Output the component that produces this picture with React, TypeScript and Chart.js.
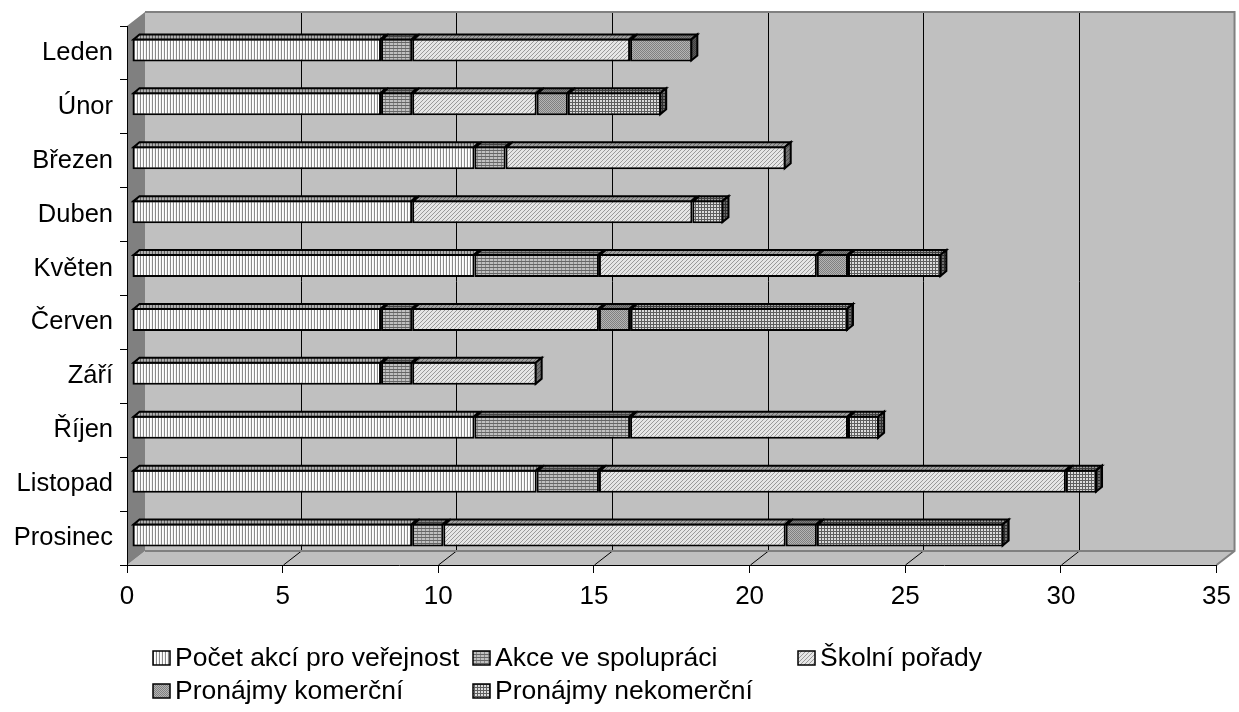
import React, { useEffect, useRef } from 'react';
import { Chart, registerables } from 'chart.js';

Chart.register(...registerables);

const categories = ['Leden', 'Únor', 'Březen', 'Duben', 'Květen', 'Červen', 'Září', 'Říjen', 'Listopad', 'Prosinec'];
const seriesNames = ['Počet akcí pro veřejnost', 'Akce ve spolupráci', 'Školní pořady', 'Pronájmy komerční', 'Pronájmy nekomerční'];
const pocetAkci = [8, 8, 11, 9, 11, 8, 8, 11, 13, 9];
const akceSpoluprace = [1, 1, 1, 0, 4, 1, 1, 5, 2, 1];
const skolniPorady = [7, 4, 9, 9, 7, 6, 4, 7, 15, 11];
const pronajmyKomercni = [2, 1, 0, 0, 1, 1, 0, 0, 0, 1];
const pronajmyNekomercni = [0, 3, 0, 1, 3, 7, 0, 1, 1, 6];
const xMin = 0;
const xMax = 35;
const xStep = 5;

const FONT = "'Liberation Sans', Arial, sans-serif";

type Px = (x: number, y: number) => string;

function makePattern(ctx: CanvasRenderingContext2D, w: number, h: number, fn: Px): CanvasPattern {
  const c = document.createElement('canvas');
  c.width = w;
  c.height = h;
  const g = c.getContext('2d')!;
  for (let y = 0; y < h; y++) {
    for (let x = 0; x < w; x++) {
      g.fillStyle = fn(x, y);
      g.fillRect(x, y, 1, 1);
    }
  }
  return ctx.createPattern(c, 'repeat')!;
}

function buildPatterns(ctx: CanvasRenderingContext2D): CanvasPattern[] {
  return [
    // vertical lines
    makePattern(ctx, 3, 1, (x) => (x === 0 ? '#8a8a8a' : x === 1 ? '#ffffff' : '#f2f2f2')),
    // horizontal grid
    makePattern(ctx, 4, 3, (x, y) => (y === 0 ? '#666666' : x === 0 ? '#888888' : '#c0c0c0')),
    // fine diagonal
    makePattern(ctx, 4, 4, (x, y) => ((x + y) % 4 === 0 ? '#9a9a9a' : '#e6e6e6')),
    // 50% checker
    makePattern(ctx, 2, 2, (x, y) => ((x + y) % 2 === 0 ? '#808080' : '#b4b4b4')),
    // dotted grid
    makePattern(ctx, 3, 3, (x, y) => (x === 0 || y === 0 ? '#5e5e5e' : '#dcdcdc')),
  ];
}

const WALL = { dx: 18, dy: 14 };
const BAR = { dx: 6, dy: 5, ox: 5, oy: -3 };

const wallsPlugin = {
  id: 'walls3d',
  beforeDraw(chart: any) {
    const { ctx, chartArea } = chart;
    const { left, right, top, bottom } = chartArea;
    const { dx, dy } = WALL;
    ctx.save();
    // back wall
    ctx.fillStyle = '#c0c0c0';
    ctx.fillRect(left + dx, top - dy, right - left, bottom - top);
    // floor
    ctx.beginPath();
    ctx.moveTo(left, bottom);
    ctx.lineTo(left + dx, bottom - dy);
    ctx.lineTo(right + dx, bottom - dy);
    ctx.lineTo(right, bottom);
    ctx.closePath();
    ctx.fill();
    // grid lines
    const xs = chart.scales.x;
    ctx.strokeStyle = '#000';
    ctx.lineWidth = 1;
    xs.ticks.forEach((t: any) => {
      if (t.value <= xMin || t.value >= xMax) return;
      const px = Math.round(xs.getPixelForValue(t.value)) + 0.5;
      ctx.beginPath();
      ctx.moveTo(px + dx, top - dy);
      ctx.lineTo(px + dx, bottom - dy);
      ctx.stroke();
      ctx.beginPath();
      ctx.moveTo(px, bottom);
      ctx.lineTo(px + dx, bottom - dy);
      ctx.stroke();
    });
    // wall borders
    ctx.strokeStyle = '#808080';
    ctx.lineWidth = 2;
    ctx.beginPath();
    ctx.moveTo(left + dx, top - dy);
    ctx.lineTo(right + dx, top - dy);
    ctx.lineTo(right + dx, bottom - dy);
    ctx.lineTo(right, bottom);
    ctx.stroke();
    ctx.beginPath();
    ctx.moveTo(left + dx, bottom - dy);
    ctx.lineTo(right + dx, bottom - dy);
    ctx.stroke();
    // left wall
    ctx.fillStyle = '#808080';
    ctx.beginPath();
    ctx.moveTo(left, top);
    ctx.lineTo(left + dx, top - dy);
    ctx.lineTo(left + dx, bottom - dy);
    ctx.lineTo(left, bottom);
    ctx.closePath();
    ctx.fill();
    ctx.restore();
  },
};

function facePath(ctx: CanvasRenderingContext2D, pts: number[][]) {
  ctx.beginPath();
  ctx.moveTo(pts[0][0], pts[0][1]);
  for (let i = 1; i < pts.length; i++) ctx.lineTo(pts[i][0], pts[i][1]);
  ctx.closePath();
}

const bars3dPlugin = {
  id: 'bars3d',
  beforeDatasetsDraw(chart: any) {
    chart.ctx.save();
    chart.ctx.translate(BAR.ox, BAR.oy);
  },
  afterDatasetsDraw(chart: any) {
    const ctx: CanvasRenderingContext2D = chart.ctx;
    const { dx, dy } = BAR;
    const datasets = chart.data.datasets;
    ctx.lineWidth = 2;
    ctx.strokeStyle = '#000';
    ctx.lineJoin = 'miter';
    const lastIdx: number[] = categories.map((_, j) => {
      let k = -1;
      datasets.forEach((ds: any, i: number) => {
        if (ds.data[j] > 0) k = i;
      });
      return k;
    });
    datasets.forEach((ds: any, i: number) => {
      const meta = chart.getDatasetMeta(i);
      meta.data.forEach((el: any, j: number) => {
        if (!(ds.data[j] > 0)) return;
        const p = el.getProps(['x', 'y', 'base', 'height'], true);
        const x0 = Math.min(p.base, p.x);
        const x1 = Math.max(p.base, p.x);
        const yt = p.y - p.height / 2 + 1;
        const yb = p.y + p.height / 2 - 1;
        // top face
        facePath(ctx, [[x0 + 1, yt], [x0 + 1 + dx, yt - dy], [x1 - 1 + dx, yt - dy], [x1 - 1, yt]]);
        ctx.fillStyle = ds.backgroundColor;
        ctx.fill();
        ctx.fillStyle = 'rgba(0,0,0,0.3)';
        ctx.fill();
        ctx.stroke();
        if (lastIdx[j] === i) {
          facePath(ctx, [[x1 - 1, yt], [x1 - 1 + dx, yt - dy], [x1 - 1 + dx, yb - dy], [x1 - 1, yb]]);
          ctx.fillStyle = ds.backgroundColor;
          ctx.fill();
          ctx.fillStyle = 'rgba(0,0,0,0.5)';
          ctx.fill();
          ctx.stroke();
        }
      });
    });
    ctx.restore();
  },
};

const legendPositions = [
  [153, 658],
  [473, 658],
  [798, 658],
  [153, 691],
  [473, 691],
];

const legendPlugin = {
  id: 'customLegend',
  afterDraw(chart: any) {
    const ctx: CanvasRenderingContext2D = chart.ctx;
    ctx.save();
    ctx.font = `26.5px ${FONT}`;
    ctx.textBaseline = 'middle';
    ctx.textAlign = 'left';
    chart.data.datasets.forEach((ds: any, i: number) => {
      const [x, cy] = legendPositions[i];
      ctx.fillStyle = ds.backgroundColor;
      ctx.fillRect(x, cy - 7, 17, 14);
      ctx.strokeStyle = '#000';
      ctx.lineWidth = 1.5;
      ctx.strokeRect(x, cy - 7, 17, 14);
      ctx.fillStyle = '#000';
      ctx.fillText(ds.label, x + 22, cy + 1);
    });
    ctx.restore();
  },
};

export default function App() {
  const canvasRef = useRef<HTMLCanvasElement | null>(null);

  useEffect(() => {
    document.body.style.margin = '0';
    const canvas = canvasRef.current!;
    const ctx = canvas.getContext('2d')!;
    const patterns = buildPatterns(ctx);
    const values = [pocetAkci, akceSpoluprace, skolniPorady, pronajmyKomercni, pronajmyNekomercni];

    const chart = new Chart(canvas, {
      type: 'bar',
      data: {
        labels: categories,
        datasets: values.map((v, i) => ({
          label: seriesNames[i],
          data: v,
          backgroundColor: patterns[i],
          borderColor: '#000',
          borderWidth: 2,
          borderSkipped: false,
          barPercentage: 0.427,
          categoryPercentage: 1,
          clip: false,
        })) as any,
      },
      options: {
        indexAxis: 'y',
        responsive: false,
        animation: false,
        devicePixelRatio: 1,
        layout: { padding: { top: 26, right: 19, bottom: 0, left: 0 } },
        plugins: {
          legend: { display: false },
          tooltip: { enabled: false },
        },
        scales: {
          x: {
            type: 'linear',
            stacked: true,
            min: xMin,
            max: xMax,
            ticks: { stepSize: xStep, padding: 8, color: '#000', font: { family: FONT, size: 26 } },
            grid: { drawOnChartArea: false, drawTicks: true, tickLength: 8, color: '#000' },
            border: { display: true, color: '#000', width: 1 },
            afterFit: (s: any) => {
              s.height = 147;
            },
          },
          y: {
            type: 'category',
            stacked: true,
            ticks: { padding: 7, color: '#000', font: { family: FONT, size: 25.5 } },
            grid: { drawOnChartArea: false, drawTicks: true, tickLength: 7, color: '#000', offset: true },
            border: { display: true, color: '#000', width: 1 },
            afterFit: (s: any) => {
              s.width = 127;
            },
          },
        },
      } as any,
      plugins: [wallsPlugin, bars3dPlugin, legendPlugin],
    });

    return () => {
      chart.destroy();
    };
  }, []);

  return (
    <div style={{ width: 1239, height: 712 }}>
      <canvas ref={canvasRef} width={1239} height={712} style={{ display: 'block' }} />
    </div>
  );
}
